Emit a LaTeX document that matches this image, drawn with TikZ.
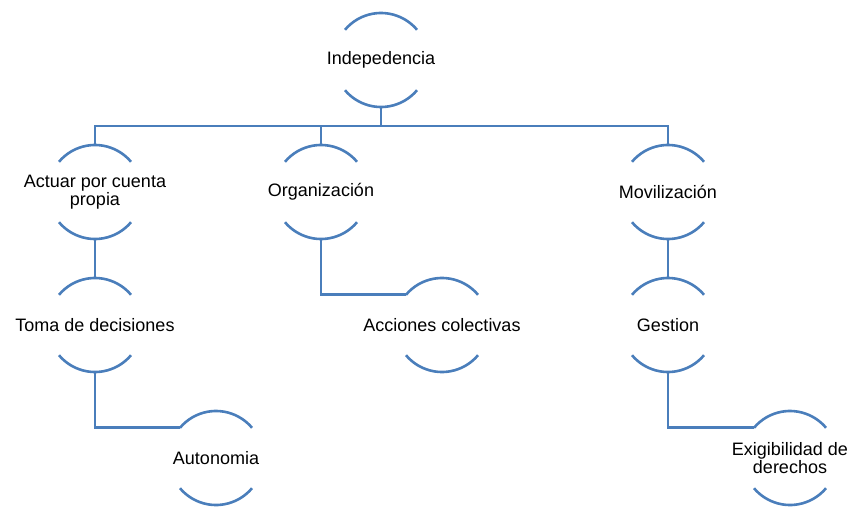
\documentclass[tikz,border=0pt]{standalone}
\usepackage{fontspec}
\setmainfont{Liberation Sans}
\definecolor{lineblue}{RGB}{74,126,187}
\begin{document}
\begin{tikzpicture}[x=1pt,y=1pt,
  link/.style={draw=lineblue, line width=2.6pt},
  circnode/.style={circle, minimum size=94pt, inner sep=0pt, outer sep=0pt},
  lab/.style={align=center, font=\fontsize{18}{18.5}\selectfont, text=black, inner sep=0pt}]
\useasboundingbox (0,0) rectangle (853,-506);
\node[circnode, label={[lab]center:Indepedencia}] (ind) at (381,-60) {};
\node[circnode, label={[lab]center:Actuar por cuenta\\propia}] (act) at (95,-192) {};
\node[circnode, label={[lab]center:Organización}] (org) at (321,-192) {};
\node[circnode, label={[lab]center:Movilización}] (mov) at (668,-192) {};
\node[circnode, label={[lab]center:Toma de decisiones}] (toma) at (95,-325) {};
\node[circnode, label={[lab]center:Acciones colectivas}] (acc) at (442,-325) {};
\node[circnode, label={[lab]center:Gestion}] (gest) at (668,-325) {};
\node[circnode, label={[lab]center:Autonomia}] (aut) at (216,-458) {};
\node[circnode, label={[lab]center:Exigibilidad de\\derechos}] (exi) at (790,-458) {};
\foreach \n in {ind,act,org,mov,toma,acc,gest,aut,exi}{
  \draw[link] (\n.40) arc[start angle=40, end angle=140, radius=47pt];
  \draw[link] (\n.220) arc[start angle=220, end angle=320, radius=47pt];
}
\coordinate (bus) at (381,-126);
\draw[link] (ind.south) -- (ind.south |- bus);
\draw[link] (act.north) |- (mov.north |- bus) -- (mov.north);
\draw[link] (org.north) -- (org.north |- bus);
\draw[link] (act.south) -- (toma.north);
\draw[link] (mov.south) -- (gest.north);
\draw[link] (org.south) |- (acc.140);
\draw[link] (toma.south) |- (aut.140);
\draw[link] (gest.south) |- (exi.140);
\end{tikzpicture}
\end{document}
